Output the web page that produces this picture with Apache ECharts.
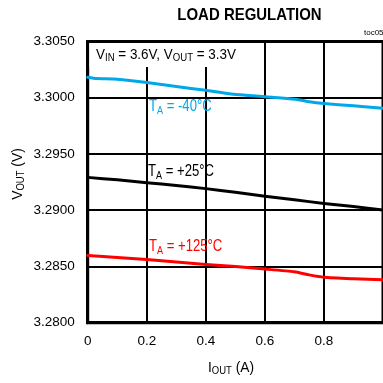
<!DOCTYPE html>
<html>
<head>
<meta charset="utf-8">
<script src="https://cdn.jsdelivr.net/npm/echarts@6/dist/echarts.min.js"></script>
<style>
  html, body { margin: 0; padding: 0; background: #fff; }
  #chart { width: 383px; height: 383px; }
</style>
</head>
<body>
<div id="chart"></div>
<script>
// Output current (A) and output voltage (V) for three ambient temperatures
const iMinus40 = [0, 0.03, 0.09, 0.2, 0.3, 0.4, 0.48, 0.6, 0.645, 0.71, 0.75, 0.8, 0.9, 1.0];
const vMinus40 = [3.30182, 3.30170, 3.30166, 3.30135, 3.30100, 3.30066, 3.30036, 3.30009, 3.30000, 3.29985, 3.29965, 3.29949, 3.29928, 3.29907];

const iPlus25 = [0, 0.1, 0.2, 0.3, 0.4, 0.5, 0.6, 0.7, 0.8, 0.9, 1.0];
const vPlus25 = [3.29292, 3.29270, 3.29245, 3.29220, 3.29192, 3.29160, 3.29125, 3.29093, 3.29060, 3.29033, 3.29002];

const iPlus125 = [0, 0.1, 0.2, 0.3, 0.4, 0.5, 0.6, 0.7, 0.75, 0.8, 0.9, 1.0];
const vPlus125 = [3.28598, 3.28580, 3.28562, 3.28540, 3.28518, 3.28499, 3.28477, 3.28452, 3.28425, 3.28404, 3.28391, 3.28382];

const xTicks = [0, 0.2, 0.4, 0.6, 0.8, 1.0];
const yTicks = [3.2800, 3.2850, 3.2900, 3.2950, 3.3000, 3.3050];

const seriesNames = ['-40°C', '+25°C', '+125°C'];
const seriesColors = ['#00a8e8', '#000000', '#ff0000'];

const FONT = "'Liberation Sans', Arial, sans-serif";

const chart = echarts.init(document.getElementById('chart'), null, { renderer: 'canvas' });

function pairs(xs, ys) { return xs.map((x, i) => [x, ys[i]]); }

// main text plus a lowered subscript
function subRich(main, sub) {
  return {
    m: { fontSize: main, fontFamily: FONT, lineHeight: main + 4 },
    s: { fontSize: sub, fontFamily: FONT, padding: [Math.round(main * 0.45), 0, 0, 0] }
  };
}

function tempLabel(color, tail, x, y) {
  return {
    type: 'text', x: x, y: y, scaleX: 0.82, z: 100,
    style: {
      text: '{m|T}{s|A}{m| = ' + tail + '}',
      fill: color, verticalAlign: 'top',
      rich: subRich(16, 11)
    }
  };
}

const option = {
  animation: false,
  backgroundColor: '#fff',
  grid: {
    left: 87.7, top: 41.5, right: -3.2, bottom: 60.3,
    show: true, borderColor: '#000', borderWidth: 3, backgroundColor: 'transparent'
  },
  xAxis: {
    type: 'value', min: xTicks[0], max: xTicks[xTicks.length - 1], interval: 0.2,
    axisLine: { show: true, lineStyle: { color: '#000', width: 3 } },
    axisTick: { show: false },
    splitLine: { show: true, lineStyle: { color: '#000', width: 2 } },
    axisLabel: {
      color: '#000', fontFamily: FONT, fontSize: 13.5, margin: 12,
      showMaxLabel: false,
      formatter: (v) => (v === 0 ? '0' : v.toFixed(1))
    }
  },
  yAxis: {
    type: 'value', min: yTicks[0], max: yTicks[yTicks.length - 1], interval: 0.005,
    axisLine: { show: true, lineStyle: { color: '#000', width: 3 } },
    axisTick: { show: false },
    splitLine: { show: true, lineStyle: { color: '#000', width: 2 } },
    axisLabel: {
      color: '#000', fontFamily: FONT, fontSize: 13.5, margin: 13,
      formatter: (v) => v.toFixed(4)
    }
  },
  series: [
    { name: seriesNames[0], data: pairs(iMinus40, vMinus40), color: seriesColors[0] },
    { name: seriesNames[1], data: pairs(iPlus25, vPlus25), color: seriesColors[1] },
    { name: seriesNames[2], data: pairs(iPlus125, vPlus125), color: seriesColors[2] }
  ].map((s) => Object.assign({
    type: 'line', showSymbol: false, smooth: 0.2, z: 5,
    lineStyle: { width: 3, color: s.color, join: 'round', cap: 'round' }
  }, s)),
  graphic: [
    // chart title
    {
      type: 'text', x: 249.5, y: 15.5, scaleX: 0.88, z: 100,
      style: {
        text: 'LOAD REGULATION', fill: '#000', fontFamily: FONT,
        fontWeight: 'bold', fontSize: 17, align: 'center', verticalAlign: 'middle'
      }
    },
    // figure tag
    {
      type: 'text', x: 364, y: 29, z: 100,
      style: { text: 'toc05', fill: '#000', fontFamily: FONT, fontSize: 8 }
    },
    // conditions box
    {
      type: 'rect', shape: { x: 89.5, y: 43, width: 150, height: 24 }, z: 90,
      style: { fill: '#fff' }
    },
    {
      type: 'text', x: 96, y: 46, scaleX: 0.96, z: 100,
      style: {
        text: '{m|V}{s|IN}{m| = 3.6V, V}{s|OUT}{m| = 3.3V}',
        fill: '#000', verticalAlign: 'top',
        rich: subRich(14, 10)
      }
    },
    tempLabel(seriesColors[0], seriesNames[0], 149, 97),
    tempLabel(seriesColors[1], seriesNames[1], 148, 162),
    tempLabel(seriesColors[2], seriesNames[2], 149, 237),
    // axis titles
    {
      type: 'text', x: 231, y: 368, scaleX: 0.95, z: 100,
      style: {
        text: '{m|I}{s|OUT}{m| (A)}', fill: '#000', align: 'center', verticalAlign: 'middle',
        rich: subRich(14.5, 10)
      }
    },
    {
      type: 'text', x: 18, y: 174, rotation: Math.PI / 2, scaleX: 0.95, z: 100,
      style: {
        text: '{m|V}{s|OUT}{m| (V)}', fill: '#000', align: 'center', verticalAlign: 'middle',
        rich: subRich(14.5, 10)
      }
    }
  ]
};

chart.setOption(option);
</script>
</body>
</html>
